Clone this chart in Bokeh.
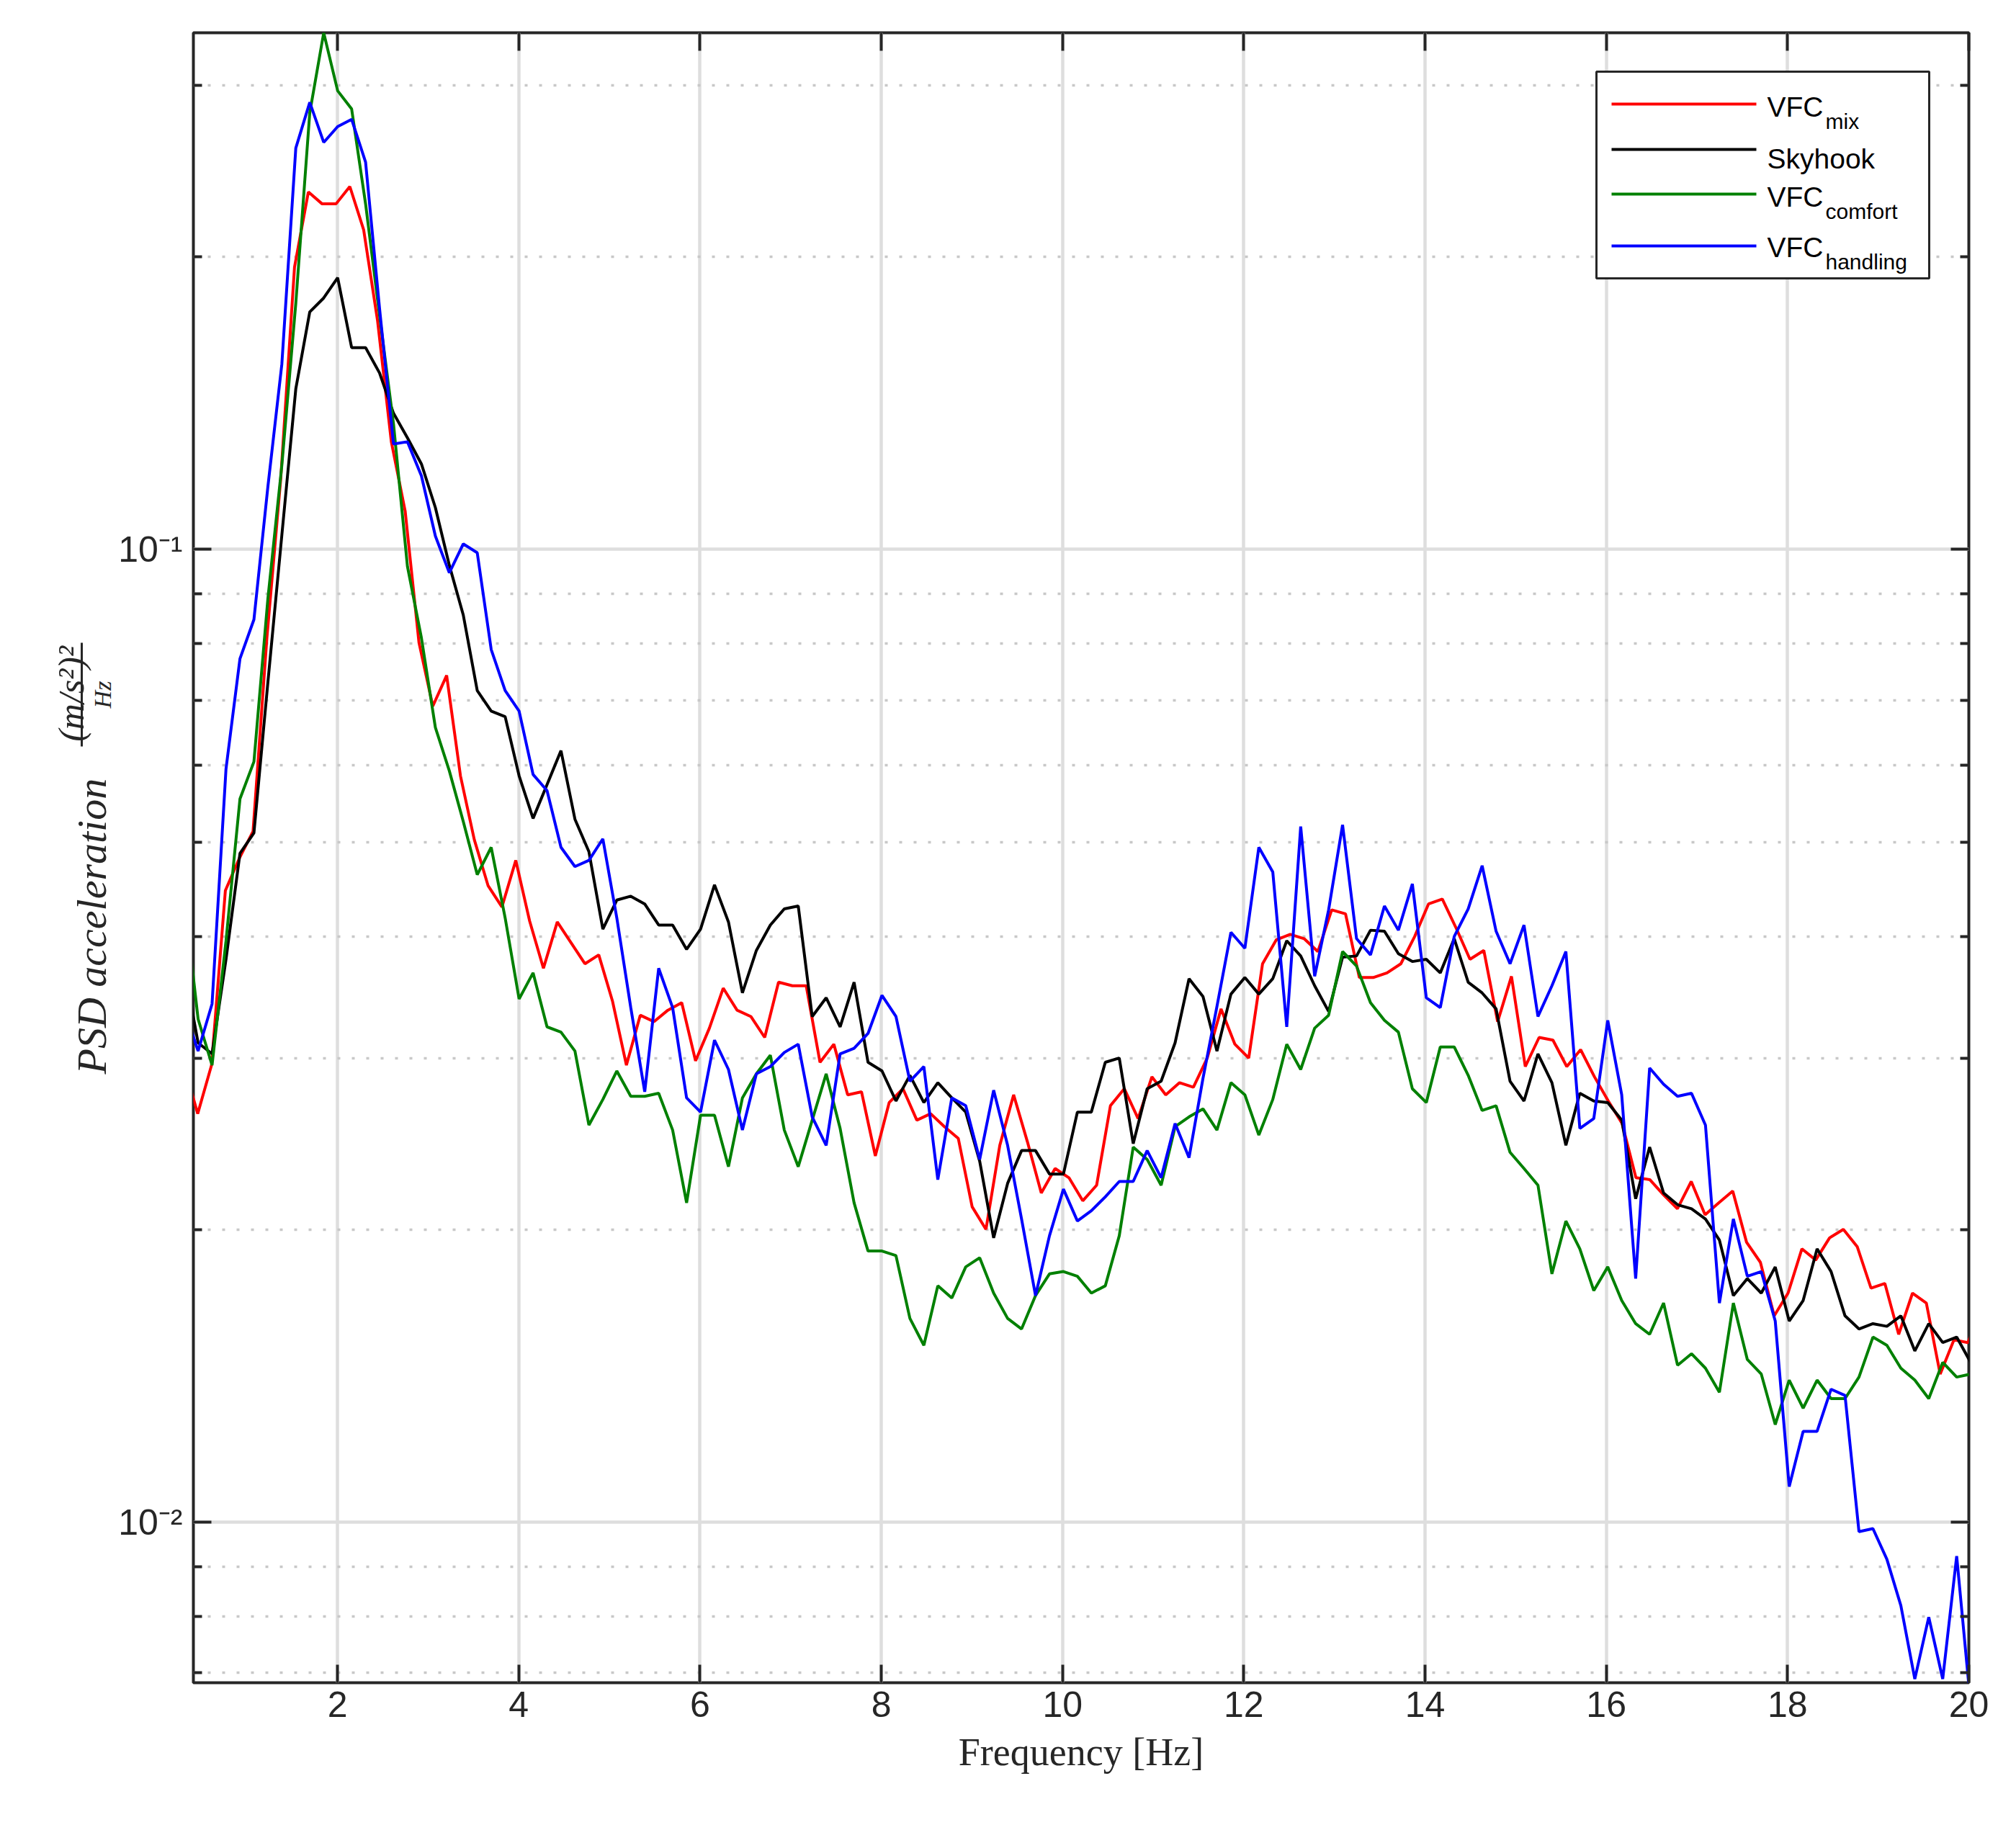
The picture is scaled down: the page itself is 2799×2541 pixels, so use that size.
import numpy as np
from bokeh.plotting import figure
from bokeh.layouts import row
from bokeh.models import Range1d, FixedTicker, LinearAxis, LogAxis, CustomJSTickFormatter
from bokeh.core.properties import value
from bokeh.embed import file_html
from bokeh.resources import INLINE

# ---------------- data ----------------
# frequency bins (Hz): bin index * resolution
bin_step_mix = 0.152588
bin_step_other = 0.154
bins_mix = np.arange(2, 133)
bins_other = np.arange(2, 131)
freq_mix = bins_mix * bin_step_mix
freq_other = bins_other * bin_step_other

psd_mix = [
    0.0295, 0.0263, 0.0295, 0.0446, 0.0481, 0.0513, 0.081, 0.118, 0.195, 0.233,
    0.2265, 0.2265, 0.236, 0.213, 0.172, 0.129, 0.1095, 0.0802, 0.0690, 0.0742,
    0.0585, 0.0503, 0.0451, 0.0429, 0.0479, 0.0415, 0.0371, 0.0414, 0.0394, 0.0375,
    0.0383, 0.0343, 0.0295, 0.0332, 0.0327, 0.0336, 0.0342, 0.0298, 0.0322, 0.0354,
    0.0336, 0.0331, 0.0315, 0.0359, 0.0356, 0.0356, 0.0297, 0.0310, 0.0275, 0.0277,
    0.0238, 0.0270, 0.0279, 0.0259, 0.0263, 0.0255, 0.0248, 0.0211, 0.0200, 0.0244,
    0.0275, 0.0246, 0.0218, 0.0231, 0.0226, 0.0214, 0.0222, 0.0268, 0.0279, 0.0260,
    0.0287, 0.0275, 0.0283, 0.0280, 0.0300, 0.0337, 0.0310, 0.0300, 0.0375, 0.0397,
    0.0402, 0.0398, 0.0386, 0.0426, 0.0422, 0.0363, 0.0363, 0.0367, 0.0375, 0.0400,
    0.0432, 0.0437, 0.0408, 0.0379, 0.0387, 0.0327, 0.0364, 0.0294, 0.0315, 0.0313,
    0.0294, 0.0306, 0.0287, 0.0271, 0.0257, 0.0226, 0.0225, 0.0217, 0.0210, 0.0224,
    0.0207, 0.0213, 0.0219, 0.0194, 0.0185, 0.0163, 0.0172, 0.0191, 0.0186, 0.0196,
    0.0200, 0.0192, 0.0174, 0.0176, 0.0156, 0.0172, 0.0168, 0.0142, 0.0154, 0.0153,
    0.0165]

psd_skyhook = [
    0.0372, 0.0311, 0.0303, 0.0379, 0.0487, 0.0511, 0.073, 0.1034, 0.1462, 0.1754,
    0.1813, 0.1902, 0.1612, 0.1612, 0.1518, 0.138, 0.1302, 0.1224, 0.1104, 0.0963,
    0.0856, 0.0716, 0.0682, 0.0673, 0.0585, 0.0529, 0.0573, 0.0621, 0.0528, 0.0489,
    0.0407, 0.0436, 0.0440, 0.0432, 0.0411, 0.0411, 0.0388, 0.0407, 0.0452, 0.0414,
    0.0350, 0.0387, 0.0411, 0.0427, 0.0430, 0.0331, 0.0346, 0.0323, 0.0359, 0.0297,
    0.0291, 0.0271, 0.0288, 0.0270, 0.0283, 0.0273, 0.0264, 0.0235, 0.0196, 0.0223,
    0.0241, 0.0241, 0.0228, 0.0228, 0.0264, 0.0264, 0.0297, 0.0300, 0.0245, 0.0279,
    0.0284, 0.0311, 0.0362, 0.0347, 0.0305, 0.0349, 0.0363, 0.0349, 0.0362, 0.0396,
    0.0382, 0.0356, 0.0335, 0.0381, 0.0382, 0.0406, 0.0405, 0.0384, 0.0377, 0.0379,
    0.0367, 0.0398, 0.0359, 0.0350, 0.0337, 0.0284, 0.0271, 0.0303, 0.0283, 0.0244,
    0.0276, 0.0271, 0.0270, 0.0259, 0.0215, 0.0243, 0.0218, 0.0212, 0.0210, 0.0205,
    0.0195, 0.0171, 0.0178, 0.0172, 0.0183, 0.0161, 0.0169, 0.0191, 0.0181, 0.0163,
    0.0158, 0.0160, 0.0159, 0.0163, 0.0150, 0.0160, 0.0153, 0.0155, 0.0146]

psd_comfort = [
    0.0440, 0.0329, 0.0295, 0.0396, 0.0554, 0.0605, 0.089, 0.122, 0.179, 0.281,
    0.3396, 0.296, 0.2836, 0.2265, 0.174, 0.1346, 0.096, 0.0811, 0.0656, 0.0592,
    0.0525, 0.0463, 0.0494, 0.0418, 0.0345, 0.0367, 0.0323, 0.0319, 0.0305, 0.0256,
    0.0272, 0.0291, 0.0274, 0.0274, 0.0276, 0.0253, 0.0213, 0.0262, 0.0262, 0.0232,
    0.0273, 0.0289, 0.0302, 0.0253, 0.0232, 0.0259, 0.0289, 0.0254, 0.0213, 0.0190,
    0.0190, 0.0188, 0.0162, 0.0152, 0.0175, 0.0170, 0.0183, 0.0187, 0.0172, 0.0162,
    0.0158, 0.0171, 0.0180, 0.0181, 0.0179, 0.0172, 0.0175, 0.0197, 0.0243, 0.0236,
    0.0222, 0.0255, 0.0261, 0.0266, 0.0253, 0.0283, 0.0275, 0.0250, 0.0272, 0.0310,
    0.0292, 0.0322, 0.0332, 0.0386, 0.0373, 0.0342, 0.0328, 0.0319, 0.0279, 0.0270,
    0.0308, 0.0308, 0.0288, 0.0265, 0.0268, 0.0240, 0.0231, 0.0222, 0.0180, 0.0204,
    0.0191, 0.0173, 0.0183, 0.0169, 0.0160, 0.0156, 0.0168, 0.0145, 0.0149, 0.0144,
    0.0136, 0.0168, 0.0147, 0.0142, 0.0126, 0.0140, 0.0131, 0.0140, 0.0134, 0.0134,
    0.0141, 0.0155, 0.0152, 0.0144, 0.0140, 0.0134, 0.0146, 0.0141, 0.0142]

psd_handling = [
    0.0337, 0.0305, 0.0341, 0.0595, 0.0772, 0.0847, 0.116, 0.155, 0.2585, 0.288,
    0.262, 0.272, 0.2767, 0.250, 0.1769, 0.1283, 0.1290, 0.119, 0.1032, 0.0946,
    0.1013, 0.0992, 0.0789, 0.0716, 0.0682, 0.0587, 0.0565, 0.0494, 0.0472, 0.0479,
    0.0504, 0.0418, 0.0338, 0.0277, 0.0371, 0.0338, 0.0273, 0.0264, 0.0313, 0.0292,
    0.0253, 0.0289, 0.0294, 0.0304, 0.0310, 0.0261, 0.0244, 0.0303, 0.0307, 0.0318,
    0.0348, 0.0331, 0.0284, 0.0294, 0.0225, 0.0273, 0.0268, 0.0236, 0.0278, 0.0244,
    0.0205, 0.0171, 0.0197, 0.0220, 0.0204, 0.0209, 0.0216, 0.0224, 0.0224, 0.0241,
    0.0226, 0.0257, 0.0237, 0.0286, 0.0339, 0.0404, 0.0389, 0.0494, 0.0466, 0.0323,
    0.0519, 0.0364, 0.0426, 0.0521, 0.0398, 0.0383, 0.0430, 0.0406, 0.0453, 0.0346,
    0.0338, 0.0400, 0.0427, 0.0473, 0.0405, 0.0375, 0.0411, 0.0331, 0.0356, 0.0386,
    0.0254, 0.0260, 0.0328, 0.0275, 0.0178, 0.0293, 0.0282, 0.0274, 0.0276, 0.0256,
    0.0168, 0.0205, 0.0179, 0.0181, 0.0161, 0.01088, 0.0124, 0.0124, 0.0137, 0.0135,
    0.00978, 0.00985, 0.00916, 0.00821, 0.00690, 0.00799, 0.00690, 0.00923, 0.0065]

x_ticks = [2, 4, 6, 8, 10, 12, 14, 16, 18, 20]
y_major_ticks = [0.01, 0.1]
y_minor_ticks = [0.007, 0.008, 0.009, 0.02, 0.03, 0.04, 0.05, 0.06, 0.07, 0.08, 0.09, 0.2, 0.3]

series_colors = ["#ff0000", "#000000", "#008000", "#0000ff"]

# ---------------- layout ----------------
X0, X1 = 0.41, 20.0
Y0, Y1 = 0.00684, 0.3396
FW, FH = 2465, 2291
LABEL_W = 161
BORDER_L, BORDER_R, BORDER_T, BORDER_B = 102, 40, 45, 190
AXC = "#262626"

p = figure(x_range=Range1d(X0, X1), y_range=Range1d(Y0, Y1), y_axis_type="log",
           frame_width=FW, frame_height=FH,
           min_border_left=BORDER_L, min_border_right=BORDER_R,
           min_border_top=BORDER_T, min_border_bottom=BORDER_B,
           output_backend="svg", toolbar_location=None,
           background_fill_color="white", border_fill_color="white")
p.outline_line_color = AXC
p.outline_line_width = 4

xticker = FixedTicker(ticks=x_ticks, minor_ticks=[])
yticker = FixedTicker(ticks=y_major_ticks, minor_ticks=y_minor_ticks)


def style_axis(ax):
    ax.axis_line_color = None
    ax.major_tick_in = 25
    ax.major_tick_out = 0
    ax.minor_tick_in = 12
    ax.minor_tick_out = 0
    ax.major_tick_line_color = AXC
    ax.minor_tick_line_color = AXC
    ax.major_tick_line_width = 4
    ax.minor_tick_line_width = 4
    ax.major_label_text_font = "Liberation Sans"
    ax.major_label_text_font_size = "50px"
    ax.major_label_text_color = AXC


xa = p.xaxis[0]
xa.ticker = xticker
style_axis(xa)
xa.major_label_standoff = 12
xa.axis_label = "Frequency [Hz]"
xa.axis_label_text_font = "Liberation Serif"
xa.axis_label_text_font_style = "normal"
xa.axis_label_text_font_size = "54px"
xa.axis_label_text_color = AXC
xa.axis_label_standoff = 16

ya = p.yaxis[0]
ya.ticker = yticker
style_axis(ya)
ya.major_label_standoff = 15
ya.formatter = CustomJSTickFormatter(code="return tick < 0.05 ? '10\u207b\u00b2' : '10\u207b\u00b9';")

top = LinearAxis(ticker=xticker, formatter=CustomJSTickFormatter(code="return '';"))
style_axis(top)
top.major_label_text_font_size = "0px"
p.add_layout(top, "above")

right = LogAxis(ticker=yticker, formatter=CustomJSTickFormatter(code="return '';"))
style_axis(right)
right.major_label_text_font_size = "0px"
p.add_layout(right, "right")

p.xgrid.grid_line_color = "#dedede"
p.xgrid.grid_line_width = 4.5
p.ygrid.grid_line_color = "#dedede"
p.ygrid.grid_line_width = 4.5
p.ygrid.minor_grid_line_color = "#c8c8c8"
p.ygrid.minor_grid_line_width = 3.5
p.ygrid.minor_grid_line_dash = "4 16"

# ---------------- data lines ----------------
LW = 4
p.line(freq_mix, psd_mix, line_color=series_colors[0], line_width=LW)
p.line(freq_other, psd_skyhook, line_color=series_colors[1], line_width=LW)
p.line(freq_other, psd_comfort, line_color=series_colors[2], line_width=LW)
p.line(freq_other, psd_handling, line_color=series_colors[3], line_width=LW)

# ---------------- legend (drawn, to allow subscripts) ----------------
LT, LB = np.log10(Y1), np.log10(Y0)


def fx(px):
    return X0 + px / FW * (X1 - X0)


def fy(py):
    return 10 ** (LT - py / FH * (LT - LB))


p.quad(left=[fx(1948)], right=[fx(2410)], top=[fy(54)], bottom=[fy(341)],
       fill_color="white", line_color=AXC, line_width=3)
line_rows = [99, 162, 224, 296]
p.segment(x0=[fx(1969)] * 4, x1=[fx(2170)] * 4,
          y0=[fy(r) for r in line_rows], y1=[fy(r) for r in line_rows],
          line_color=series_colors, line_width=LW)
base_rows = [103, 175, 228, 298]
p.text(x=[fx(2185)] * 4, y=[fy(r) for r in base_rows], text=["VFC", "Skyhook", "VFC", "VFC"],
       text_font=value("Liberation Sans"), text_font_size="39px",
       text_align="left", text_baseline="alphabetic", text_color="black")
sub_rows = [103, 228, 298]
p.text(x=[fx(2185)] * 3, y=[fy(r) for r in sub_rows], text=["mix", "comfort", "handling"],
       x_offset=81, y_offset=20,
       text_font=value("Liberation Sans"), text_font_size="30px",
       text_align="left", text_baseline="alphabetic", text_color="black")

# ---------------- y axis label panel (text with a stacked fraction) ----------------
# panel frame shares the main frame's vertical extent; y measured up from frame bottom
lf = figure(x_range=Range1d(0, LABEL_W), y_range=Range1d(0, FH),
            frame_width=LABEL_W, frame_height=FH,
            min_border_left=0, min_border_right=0,
            min_border_top=BORDER_T, min_border_bottom=BORDER_B,
            x_axis_type=None, y_axis_type=None,
            output_backend="svg", toolbar_location=None,
            background_fill_color="white", border_fill_color="white")
lf.outline_line_color = None
FB = BORDER_T + FH  # page row of the frame bottom
serif_it = dict(text_font=value("Liberation Serif"), text_font_style="italic",
                text_color=AXC, angle=np.pi / 2, text_baseline="alphabetic")
lf.text(x=[127], y=[FB - 1491], text=["PSD acceleration"],
        text_font_size="58px", text_align="left", **serif_it)
lf.text(x=[98], y=[FB - 963], text=["(m/s\u00b2)\u00b2"],
        text_font_size="50px", text_align="center", **serif_it)
lf.text(x=[142], y=[FB - 964], text=["Hz"],
        text_font_size="34px", text_align="center", **serif_it)
lf.segment(x0=[113], x1=[113], y0=[FB - 1036], y1=[FB - 892],
           line_color=AXC, line_width=3)

layout = row(lf, p)
open("out.html", "w").write(file_html(layout, INLINE))
